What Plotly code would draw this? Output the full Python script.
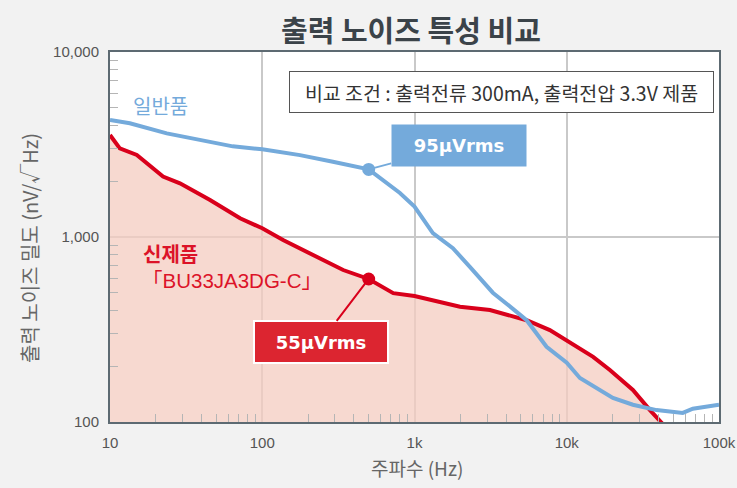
import math
import plotly.graph_objects as go

# ---- data ----
freq_conv = [10, 13.5, 23.6, 39, 64, 100, 177, 291, 500, 802, 1000, 1320, 1787, 2310,
             3270, 4680, 5450, 7370, 10000, 12200, 20100, 27200, 38900, 57800, 67300, 100000]
noise_conv = [4290, 4120, 3630, 3340, 3090, 2980, 2770, 2550, 2320, 1730, 1460, 1050, 870, 690,
              500, 394, 355, 255, 209, 173, 135, 124, 116, 112, 118, 124]

freq_new = [10, 11.6, 15, 22.3, 28.8, 45.4, 71.5, 100, 137, 227, 340, 500, 725, 1000,
            1990, 3130, 5450, 7740, 10000, 14900, 19200, 27200, 35200, 41900, 44500]
noise_new = [3560, 3010, 2775, 2120, 1950, 1585, 1262, 1115, 963, 783, 663, 593, 497, 480,
             420, 403, 355, 314, 277, 225, 191, 149, 116, 100, 94]

marker_freq = [500]
marker_conv = [2320]
marker_new = [593]

x_tickvals = [10, 100, 1000, 10000, 100000]
x_ticktext = ["10", "100", "1k", "10k", "100k"]
y_tickvals = [100, 1000, 10000]
y_ticktext = ["100", "1,000", "10,000"]

title_text = "출력 노이즈 특성 비교"
x_title = "주파수 (Hz)"
y_title = "출력 노이즈 밀도 (nV/√Hz)"
cond_text = "비교 조건 : 출력전류 300mA, 출력전압 3.3V 제품"
conv_label = "일반품"
new_label = "신제품"
new_model = "「BU33JA3DG-C」"
conv_rms = "95μVrms"
new_rms = "55μVrms"

BLUE = "#74aadb"
RED = "#d9001b"
FILL = "rgba(244,204,192,0.75)"
FONT = "Liberation Sans, Arial, Noto Sans CJK KR, sans-serif"
KFONT = "Noto Sans CJK KR, Liberation Sans, sans-serif"
BFONT = "DejaVu Sans, Liberation Sans, sans-serif"

L, R, T, B = 110, 18, 52, 66
W, H = 737, 488
PW, PH = W - L - R, H - T - B


def px(x):
    return (x - L) / PW


def py(y):
    return (H - B - y) / PH


x_minor = [m * d for d in [10, 100, 1000, 10000] for m in range(2, 10)]
y_minor = [m * d for d in [100, 1000] for m in range(2, 10)]

fig = go.Figure()
fig.add_trace(go.Scatter(x=freq_new, y=noise_new, mode="lines", fill="tozeroy",
                         fillcolor=FILL, line=dict(color=RED, width=4), hoverinfo="skip"))
fig.add_trace(go.Scatter(x=freq_conv, y=noise_conv, mode="lines",
                         line=dict(color=BLUE, width=4), hoverinfo="skip"))
fig.add_trace(go.Scatter(x=marker_freq, y=marker_conv, mode="markers",
                         marker=dict(color=BLUE, size=13), hoverinfo="skip"))
fig.add_trace(go.Scatter(x=marker_freq, y=marker_new, mode="markers",
                         marker=dict(color=RED, size=13), hoverinfo="skip"))

axis_common = dict(showline=True, linecolor="#5d6a72", linewidth=2, mirror=True,
                   showgrid=True, gridcolor="#c9c9c9", gridwidth=1.5, zeroline=False,
                   ticks="", automargin=False,
                   tickfont=dict(family=FONT, size=15, color="#555555"))

fig.update_xaxes(type="log", range=[1, 5], tickmode="array", tickvals=x_tickvals,
                 ticktext=x_ticktext, ticklabelstandoff=6,
                 minor=dict(tickmode="array", tickvals=x_minor, ticks="inside",
                            ticklen=8, tickcolor="#b5b5b5", tickwidth=1.2, showgrid=False),
                 **axis_common)
fig.update_yaxes(type="log", range=[2, 4], tickmode="array", tickvals=y_tickvals,
                 ticktext=y_ticktext, ticklabelstandoff=6,
                 minor=dict(tickmode="array", tickvals=y_minor, ticks="inside",
                            ticklen=8, tickcolor="#b5b5b5", tickwidth=1.2, showgrid=False),
                 **axis_common)


def label(text, x, y, size, color, family=KFONT, xanchor="center", **kw):
    return dict(text=text, x=px(x), y=py(y), xref="paper", yref="paper",
                xanchor=xanchor, yanchor="middle", showarrow=False,
                font=dict(family=family, size=size, color=color), **kw)


annotations = [
    label("<b>" + title_text + "</b>", 411, 29, 29, "#3b4349"),
    label(x_title, 417, 467, 19, "#666666"),
    label(y_title, 30, 248, 20, "#666666", textangle=-90),
    label(cond_text, 501.5, 92, 19.5, "#333333", bgcolor="white", bordercolor="#555555",
          borderwidth=1, width=421, height=38),
    label(conv_label, 131, 106, 20, BLUE, xanchor="left"),
    label("<b>" + new_label + "</b>", 141, 253, 20, "#dc1328", xanchor="left"),
    label(new_model, 140, 280, 20.5, "#dc1328", family=FONT, xanchor="left"),
    dict(text="<b>" + conv_rms + "</b>", x=math.log10(marker_freq[0]),
         y=math.log10(marker_conv[0]), xref="x", yref="y",
         showarrow=True, arrowhead=0, arrowwidth=2, arrowcolor=BLUE, ax=90, ay=-24,
         bgcolor=BLUE, borderpad=0, width=134, height=41,
         font=dict(family=BFONT, size=18, color="white")),
    dict(text="<b>" + new_rms + "</b>", x=math.log10(marker_freq[0]),
         y=math.log10(marker_new[0]), xref="x", yref="y",
         showarrow=True, arrowhead=0, arrowwidth=2, arrowcolor=RED, ax=-48, ay=63,
         bgcolor="#dc2530", bordercolor="white", borderwidth=2, borderpad=0,
         width=132, height=40, font=dict(family=BFONT, size=18, color="white")),
]

fig.update_layout(width=W, height=H, margin=dict(l=L, r=R, t=T, b=B, autoexpand=False),
                  paper_bgcolor="#f2f2f2", plot_bgcolor="white", showlegend=False,
                  annotations=annotations)

fig.write_html("out.html", config={"displayModeBar": False},
               post_script="document.body.style.margin='0';"
                           "document.body.style.overflow='hidden';")
